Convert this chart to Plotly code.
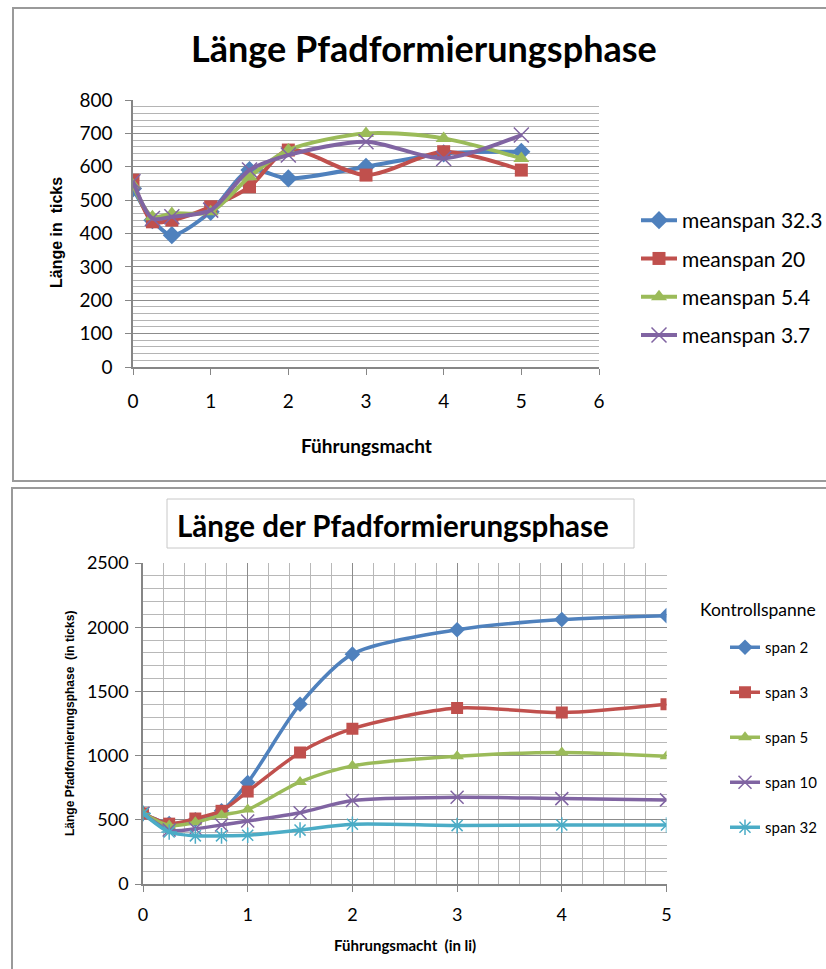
import plotly.graph_objects as go

# ---------------- data: top chart ----------------
top_x = [0, 0.25, 0.5, 1, 1.5, 2, 3, 4, 5]
top_names = ["meanspan 32.3", "meanspan 20", "meanspan 5.4", "meanspan 3.7"]
top_ms323 = [535, 440, 395, 465, 590, 565, 600, 640, 645]
top_ms20 = [560, 435, 440, 480, 540, 650, 575, 645, 590]
top_ms54 = [545, 450, 460, 465, 570, 650, 700, 685, 625]
top_ms37 = [555, 445, 450, 470, 590, 635, 675, 625, 695]
top_yticks = [0, 100, 200, 300, 400, 500, 600, 700, 800]
top_xticks = [0, 1, 2, 3, 4, 5, 6]

# ---------------- data: bottom chart ----------------
bot_x = [0, 0.25, 0.5, 0.75, 1, 1.5, 2, 3, 4, 5]
bot_names = ["span 2", "span 3", "span 5", "span 10", "span 32"]
bot_span2 = [550, 470, 500, 570, 790, 1400, 1790, 1980, 2060, 2090]
bot_span3 = [550, 470, 510, 570, 720, 1025, 1210, 1370, 1335, 1400]
bot_span5 = [550, 455, 480, 535, 580, 795, 920, 995, 1025, 995]
bot_span10 = [550, 420, 430, 460, 490, 555, 650, 675, 665, 655]
bot_span32 = [550, 405, 375, 375, 380, 420, 465, 455, 460, 460]
bot_yticks = [0, 500, 1000, 1500, 2000, 2500]
bot_xticks = [0, 1, 2, 3, 4, 5]

W, H = 826, 969
def px(x):
    return x / W
def py(y):
    return 1 - y / H

BLUE, RED, GREEN, PURPLE, CYAN = "#4F81BD", "#C0504D", "#9BBB59", "#8064A2", "#4BACC6"
FONT = "Lato"

fig = go.Figure()

top_series = [top_ms323, top_ms20, top_ms54, top_ms37]
top_style = [
    (BLUE, dict(symbol="diamond", size=14)),
    (RED, dict(symbol="square", size=13)),
    (GREEN, dict(symbol="triangle-up", size=14)),
    (PURPLE, dict(symbol="x-thin-open", size=15, line=dict(width=1.5, color=PURPLE))),
]
for name, ys, (col, mk) in zip(top_names, top_series, top_style):
    m = dict(color=col, **mk)
    fig.add_trace(go.Scatter(
        x=top_x, y=ys, name=name, mode="lines+markers",
        line=dict(color=col, width=4, shape="spline", smoothing=0.8),
        marker=m, xaxis="x", yaxis="y", legend="legend", legendgroup=name,
    ))

bot_series = [bot_span2, bot_span3, bot_span5, bot_span10, bot_span32]
bot_style = [
    (BLUE, dict(symbol="diamond", size=12)),
    (RED, dict(symbol="square", size=12)),
    (GREEN, dict(symbol="triangle-up", size=12)),
    (PURPLE, dict(symbol="x-thin-open", size=13, line=dict(width=1.5, color=PURPLE))),
    (CYAN, dict(symbol="asterisk-open", size=13, line=dict(width=1.5, color=CYAN))),
]
for name, ys, (col, mk) in zip(bot_names, bot_series, bot_style):
    m = dict(color=col, **mk)
    fig.add_trace(go.Scatter(
        x=bot_x, y=ys, name=name, mode="lines+markers",
        line=dict(color=col, width=3.5, shape="spline", smoothing=0.8),
        marker=m, xaxis="x2", yaxis="y2", legend="legend2", legendgroup=name,
    ))

axis_common = dict(showline=True, linecolor="#868686", linewidth=1.5,
                   ticks="outside", tickcolor="#868686", ticklen=6,
                   zeroline=False, fixedrange=True, automargin=False)

fig.update_layout(
    width=W, height=H, autosize=False,
    margin=dict(l=0, r=0, t=0, b=0, pad=0, autoexpand=False),
    paper_bgcolor="white", plot_bgcolor="white",
    font=dict(family=FONT, color="#000000"),
    showlegend=True,
    xaxis=dict(domain=[px(133), px(599)], range=[0, 6], tickvals=top_xticks,
               showgrid=False, anchor="y", ticklabelstandoff=10,
               tickfont=dict(size=19, family=FONT), **axis_common),
    yaxis=dict(domain=[py(367), py(100)], range=[0, 800], tickvals=top_yticks,
               showgrid=True, gridcolor="#8c8c8c", gridwidth=1.3, anchor="x",
               ticklabelstandoff=9,
               minor=dict(dtick=20, showgrid=True, gridcolor="#b4b4b4", gridwidth=1),
               tickfont=dict(size=19, family=FONT), **axis_common),
    xaxis2=dict(domain=[px(143), px(666.5)], range=[0, 5], tickvals=bot_xticks,
                showgrid=True, gridcolor="#8c8c8c", gridwidth=1.3, anchor="y2",
                ticklabelstandoff=8,
                minor=dict(dtick=0.2, showgrid=True, gridcolor="#b8b8b8", gridwidth=1),
                tickfont=dict(size=18, family=FONT), **axis_common),
    yaxis2=dict(domain=[py(884), py(563)], range=[0, 2500], tickvals=bot_yticks,
                showgrid=True, gridcolor="#8c8c8c", gridwidth=1.3, anchor="x2",
                ticklabelstandoff=3,
                minor=dict(dtick=100, showgrid=True, gridcolor="#b8b8b8", gridwidth=1),
                tickfont=dict(size=18, family=FONT), **axis_common),
    legend=dict(x=px(636), y=py(200), xanchor="left", yanchor="top",
                font=dict(size=21, family=FONT), tracegroupgap=8,
                bgcolor="rgba(0,0,0,0)", itemwidth=36),
    legend2=dict(x=px(725), y=py(631), xanchor="left", yanchor="top",
                 font=dict(size=15, family=FONT), tracegroupgap=22.5,
                 bgcolor="rgba(0,0,0,0)", itemwidth=30),
)

shapes = [
    dict(type="rect", xref="paper", yref="paper", x0=px(13), x1=px(840), y0=py(481), y1=py(8),
         line=dict(color="#9a9a9a", width=2), fillcolor="rgba(0,0,0,0)", layer="below"),
    dict(type="rect", xref="paper", yref="paper", x0=px(12), x1=px(840), y0=py(990), y1=py(488),
         line=dict(color="#9a9a9a", width=2), fillcolor="rgba(0,0,0,0)", layer="below"),
    dict(type="rect", xref="paper", yref="paper", x0=px(167), x1=px(634), y0=py(548), y1=py(499),
         line=dict(color="#c8c8c8", width=1), fillcolor="rgba(0,0,0,0)", layer="below"),
]
fig.update_layout(shapes=shapes)

def ann(text, x, y, size, family=FONT, angle=0, xanchor="center"):
    return dict(text=text, x=px(x), y=py(y), xref="paper", yref="paper",
                xanchor=xanchor, yanchor="middle", showarrow=False, textangle=angle,
                font=dict(size=size, family=family, color="#000000"))

annotations = [
    ann("<b>Länge Pfadformierungsphase</b>", 424, 48, 36),
    ann("<b>Führungsmacht</b>", 366, 445, 19),
    ann("<b>Länge in  ticks</b>", 57, 233, 16, family="Arial", angle=-90),
    ann("<b>Länge der Pfadformierungsphase</b>", 393, 525, 29.5),
    ann("<b>Führungsmacht  (in li)</b>", 405, 945, 15),
    ann("<b>Länge Pfadformierungsphase  (in ticks)</b>", 70, 724, 12, family="Arial", angle=-90),
    ann("Kontrollspanne", 698, 609, 17.5, xanchor="left"),
]
fig.update_layout(annotations=annotations)

fig.write_html("out.html", config={"displayModeBar": False},
               post_script="document.body.style.margin='0';document.body.style.overflow='hidden';")
